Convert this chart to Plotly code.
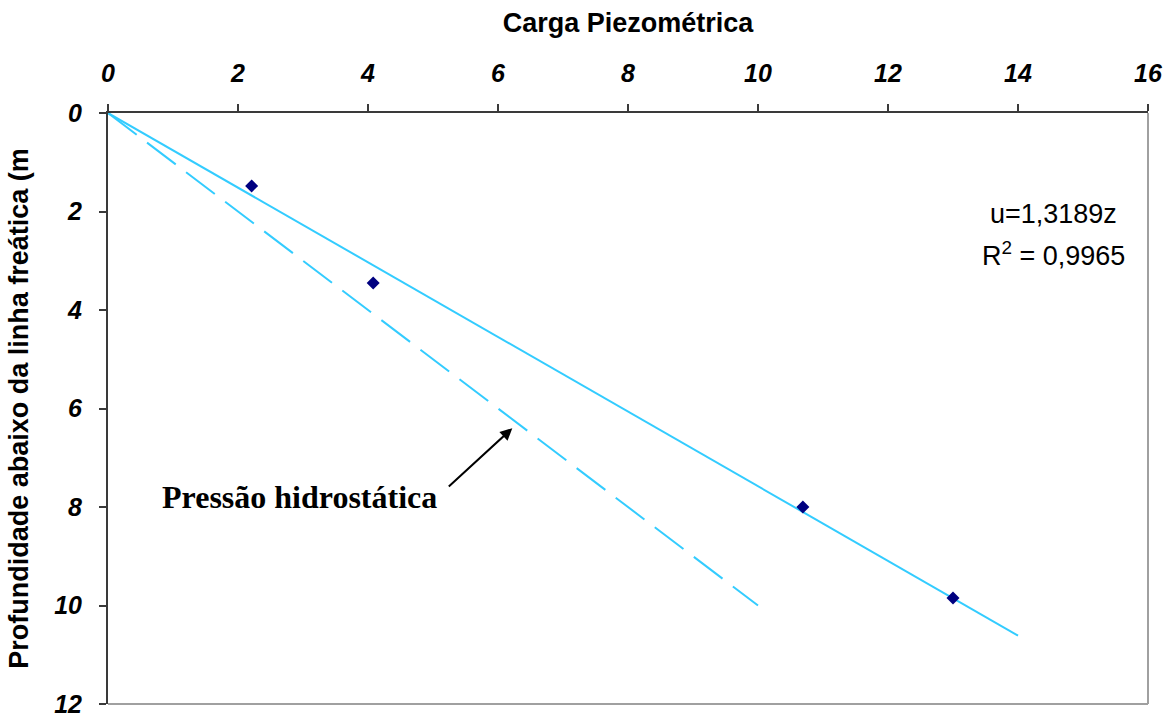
import plotly.graph_objects as go

# Data
obs_x = [2.21, 4.08, 10.69, 13.0]      # carga piezométrica
obs_y = [1.48, 3.45, 8.0, 9.85]        # profundidade (m)
trend_x = [0, 14]
trend_y = [0, 10.61]                   # u = 1,3189 z
hydro_x = [0, 10]
hydro_y = [0, 10]
x_ticks = [0, 2, 4, 6, 8, 10, 12, 14, 16]
y_ticks = [0, 2, 4, 6, 8, 10, 12]

LINE_COLOR = "#33CCFF"
AX_COLOR = "#3a3a3a"
SANS = "Liberation Sans, Arial"

fig = go.Figure()
fig.add_trace(go.Scatter(x=hydro_x, y=hydro_y, mode="lines",
                         line=dict(color=LINE_COLOR, width=2, dash="36px,13px"),
                         showlegend=False, hoverinfo="skip"))
fig.add_trace(go.Scatter(x=trend_x, y=trend_y, mode="lines",
                         line=dict(color=LINE_COLOR, width=2),
                         showlegend=False, hoverinfo="skip"))
fig.add_trace(go.Scatter(x=obs_x, y=obs_y, mode="markers",
                         marker=dict(symbol="diamond", size=10, color="#000080"),
                         showlegend=False))

tickfont = dict(family=SANS, size=25, color="black")

fig.update_layout(
    width=1172, height=717,
    margin=dict(l=108, r=24, t=113, b=13),
    paper_bgcolor="white", plot_bgcolor="white",
    xaxis=dict(range=[0, 16], side="top", tickvals=x_ticks,
               ticktext=[f"<b><i>{v}</i></b>" for v in x_ticks],
               showgrid=False, zeroline=False, showline=True, automargin=False,
               linecolor=AX_COLOR, linewidth=2, ticks="outside",
               ticklen=7, tickwidth=2, tickcolor=AX_COLOR,
               tickfont=tickfont, ticklabelstandoff=12, ticklabeloverflow="allow",
               title=dict(text="<b>Carga Piezométrica</b>",
                          font=dict(family=SANS, size=27, color="black"),
                          standoff=19)),
    yaxis=dict(range=[12, 0], tickvals=y_ticks,
               ticktext=[f"<b><i>{v}</i></b>" for v in y_ticks],
               showgrid=False, zeroline=False, showline=True, automargin=False,
               linecolor=AX_COLOR, linewidth=2, ticks="outside",
               ticklen=7, tickwidth=2, tickcolor=AX_COLOR,
               tickfont=tickfont, ticklabelstandoff=12, ticklabeloverflow="allow",
               title=dict(text="<b>Profundidade abaixo da linha freática (m</b>",
                          font=dict(family=SANS, size=27, color="black"),
                          standoff=18)),
    shapes=[
        dict(type="line", xref="paper", yref="paper", x0=1, x1=1, y0=0, y1=1,
             line=dict(color="#a0a0a0", width=2)),
        dict(type="line", xref="paper", yref="paper", x0=0, x1=1, y0=0, y1=0,
             line=dict(color="#a0a0a0", width=2)),
    ],
    annotations=[
        dict(x=14.54, y=2.05, xref="x", yref="y", text="u=1,3189z", showarrow=False,
             font=dict(family=SANS, size=27, color="black")),
        dict(x=14.54, y=2.86, xref="x", yref="y", text="R<sup>2</sup> = 0,9965", showarrow=False,
             font=dict(family=SANS, size=27, color="black")),
        dict(x=2.95, y=7.8, xref="x", yref="y", text="<b>Pressão hidrostática</b>", showarrow=False,
             font=dict(family="Liberation Serif, Times New Roman", size=32, color="black")),
        dict(x=6.22, y=6.4, xref="x", yref="y", ax=5.22, ay=7.61, axref="x", ayref="y",
             text="", showarrow=True, arrowhead=2, arrowsize=1.2, arrowwidth=2, arrowcolor="black"),
    ],
)

fig.write_html("out.html")
